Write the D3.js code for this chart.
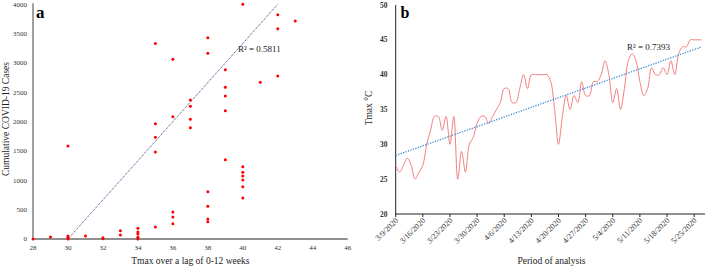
<!DOCTYPE html>
<html><head><meta charset="utf-8">
<script src="https://cdn.jsdelivr.net/npm/d3@7"></script>
<style>body{margin:0;background:#fff}svg{display:block}text{font-family:"Liberation Serif","Times New Roman",serif}</style>
</head><body><svg id="c" width="707" height="269"></svg>
<script>
// Panel a data: Tmax vs cumulative cases
const tmaxA = [28,29,30,30,30,30,31,32,32,33,33,34,34,34,34,34,35,35,35,35,35,36,36,36,36,36,37,37,37,37,38,38,38,38,38,38,39,39,39,39,39,40,40,40,40,40,40,40,41,42,42,42,43];
const casesA = [0,34,0,30,51,1585,51,5,22,68,141,0,29,85,119,182,205,1483,1733,1965,3330,261,375,460,2084,3063,1897,2040,2261,2369,295,341,557,806,3165,3430,1352,2187,2437,2585,2886,699,892,1006,1074,1136,1232,4000,2671,2778,3585,3823,3715];
const xTicksA = [28,30,32,34,36,38,40,42,44,46];
const yTicksA = [0,500,1000,1500,2000,2500,3000,3500,4000];
const trendA = [[28,-666.7],[43,4333.3]];
const r2A = "R² = 0.5811";

// Panel b data: daily Tmax from 3/9/2020
const startB = "2020-03-09";
const tmaxB = [27,26,27,28,27,25,26,27,30,32,34,34,32,34,30,34,25,29,26,30,31,33,34,34,33,34,35,36,38,38,36,36,38,40,38,40,40,40,40,40,39,35,30,34,37,35,37,36,39,37,37,39,39,40,42,40,36,38,35,38,42,43,42,39,37,38,41,40,40,41,40,42,40,43,44,44,45,45,45,45];
const dateTicksB = ["3/9/2020","3/16/2020","3/23/2020","3/30/2020","4/6/2020","4/13/2020","4/20/2020","4/27/2020","5/4/2020","5/11/2020","5/18/2020","5/25/2020"];
const yTicksB = [20,25,30,35,40,45,50];
const trendB = [[0,28.4],[79,44.0]];
const r2B = "R² = 0.7393";

const svg = d3.select("#c");
const DAY = 864e5;
const parse = s => { const [m,d,y] = s.split("/").map(Number); return new Date(Date.UTC(y,m-1,d)); };
const t0 = new Date(startB + "T00:00:00Z");

// ---------- Panel a ----------
const xA = d3.scaleLinear().domain([28,46]).range([33,347.7]);
const yA = d3.scaleLinear().domain([0,4000]).range([239,4.3]);
const gA = svg.append("g");
gA.append("clipPath").attr("id","clipA").append("rect")
  .attr("x",xA(28)).attr("y",yA(4000)).attr("width",xA(46)-xA(28)).attr("height",yA(0)-yA(4000));
gA.append("line").attr("x1",xA(28)).attr("x2",xA(28)).attr("y1",yA(4000)-1).attr("y2",yA(0))
  .attr("stroke","#a0a0a0").attr("stroke-width",2);
gA.selectAll(".yt").data(yTicksA).join("text").attr("x",27).attr("y",d=>yA(d)).attr("dy","0.35em")
  .attr("text-anchor","end").attr("font-size",7).attr("fill","#333").text(d=>d);
gA.append("line").attr("x1",xA(28)).attr("x2",xA(46)).attr("y1",yA(0)).attr("y2",yA(0)).attr("stroke","#222").attr("stroke-width",1);
gA.selectAll(".xt").data(xTicksA).join("text").attr("x",d=>xA(d)).attr("y",yA(0)+11)
  .attr("text-anchor","middle").attr("font-size",7).attr("fill","#333").text(d=>d);
gA.append("path").attr("clip-path","url(#clipA)")
  .attr("d",d3.line().x(d=>xA(d[0])).y(d=>yA(d[1]))(trendA))
  .attr("stroke","#33407a").attr("stroke-width",1).attr("stroke-dasharray","1,1").attr("fill","none");
gA.selectAll(".pt").data(tmaxA.map((t,i)=>[t,casesA[i]])).join("circle")
  .attr("cx",d=>xA(d[0])).attr("cy",d=>yA(d[1])).attr("r",1.5).attr("fill","#ff0000");
gA.append("text").attr("x",238).attr("y",52).attr("font-size",9).attr("fill","#222").text(r2A);
gA.append("text").attr("x",36).attr("y",18).attr("font-size",17).attr("font-weight","bold").text("a");
gA.append("text").attr("x",(xA(28)+xA(46))/2).attr("y",264).attr("text-anchor","middle").attr("font-size",9.5).attr("fill","#222").text("Tmax over a lag of 0-12 weeks");
gA.append("text").attr("transform","translate(8.5,119) rotate(-90)").attr("text-anchor","middle").attr("font-size",9.5).attr("fill","#222").text("Cumulative COVID-19 Cases");

// ---------- Panel b ----------
const xB = d3.scaleUtc().domain([t0, new Date(+t0 + 79.8*DAY)]).range([395.7,705]);
const yB = d3.scaleLinear().domain([20,50]).range([214,5]);
const gB = svg.append("g");
gB.append("line").attr("x1",xB.range()[0]).attr("x2",xB.range()[0]).attr("y1",yB(50)).attr("y2",yB(20)).attr("stroke","#222");
gB.append("line").attr("x1",xB.range()[0]).attr("x2",xB.range()[1]).attr("y1",yB(20)).attr("y2",yB(20)).attr("stroke","#222");
gB.selectAll(".yt").data(yTicksB).join("text").attr("x",387.5).attr("y",d=>yB(d)).attr("dy","0.35em")
  .attr("text-anchor","end").attr("font-size",7.5).attr("font-weight","bold").attr("fill","#333").text(d=>d);
const dt = dateTicksB.map(s=>({s, d:parse(s)}));
gB.selectAll(".tk").data(dt).join("line").attr("x1",d=>xB(d.d)).attr("x2",d=>xB(d.d))
  .attr("y1",yB(20)).attr("y2",yB(20)+3).attr("stroke","#222");
gB.selectAll(".xl").data(dt).join("text")
  .attr("transform",d=>`translate(${xB(d.d)+3},${yB(20)+7}) rotate(-45)`)
  .attr("text-anchor","end").attr("font-size",8).attr("fill","#333").text(d=>d.s);
const serB = tmaxB.map((v,i)=>[new Date(+t0 + i*DAY), v]);
gB.append("path").attr("d",d3.line().x(d=>xB(d[0])).y(d=>yB(d[1])).curve(d3.curveCatmullRom.alpha(0.5))(serB))
  .attr("stroke","#f4807f").attr("stroke-width",1).attr("fill","none");
gB.append("path").attr("d",d3.line().x(d=>xB(new Date(+t0+d[0]*DAY))).y(d=>yB(d[1]))(trendB))
  .attr("stroke","#3a8fd8").attr("stroke-width",1.3).attr("stroke-dasharray","1.3,1.3").attr("fill","none");
gB.append("text").attr("x",627).attr("y",49.5).attr("font-size",9).attr("fill","#222").text(r2B);
gB.append("text").attr("x",400.5).attr("y",18).attr("font-size",16).attr("font-weight","bold").text("b");
gB.append("text").attr("x",551.5).attr("y",264).attr("text-anchor","middle").attr("font-size",9.5).attr("fill","#222").text("Period of analysis");
gB.append("text").attr("transform","translate(372,108) rotate(-90)").attr("text-anchor","middle").attr("font-size",9.5).attr("fill","#222").text("Tmax °C");
</script></body></html>
